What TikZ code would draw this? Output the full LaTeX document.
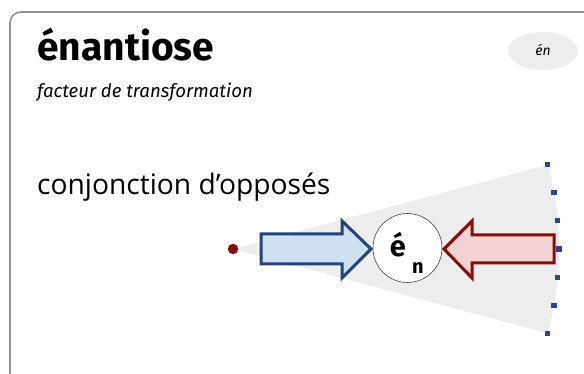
\documentclass[tikz,border=0pt]{standalone}
\usepackage{fontspec}
\usetikzlibrary{calc}
\setmainfont{Fira Sans}
\newfontfamily\bodyfont{Open Sans}
\definecolor{navy}{HTML}{22437F}
\definecolor{paleblue}{HTML}{CFE0F1}
\definecolor{darkred}{HTML}{8B0A0A}
\definecolor{palered}{HTML}{F3D3D4}
\definecolor{dotblue}{HTML}{27488A}
\begin{document}
\begin{tikzpicture}[x=1pt,y=-1pt,
  card/.style={draw=black!42,line width=1.6pt,rounded corners=11pt,fill=white},
  bluearrow/.style={draw=navy,line width=3pt,fill=paleblue,line join=miter},
  redarrow/.style={draw=darkred,line width=3pt,fill=palered,line join=miter},
  dotmark/.style={fill=dotblue,draw=none}]
\useasboundingbox (0,0) rectangle (584,374);
\path[card] (10,400) -- (10,12) -- (600,12);
\node[anchor=base west,inner sep=0pt,font=\fontsize{39}{41}\selectfont\bfseries] (title) at (37,61) {énantiose};
\node[anchor=base west,inner sep=0pt,font=\fontsize{18.6}{20}\selectfont\itshape] (sub) at (37,98) {facteur de transformation};
\fill[black!7] (543,51) ellipse [x radius=35,y radius=19];
\node[inner sep=0pt,font=\fontsize{14}{15}\selectfont\itshape] (badge) at (543,50) {én};
\node[anchor=base west,inner sep=0pt,font=\bodyfont\fontsize{28.2}{30}\selectfont] (conj) at (37,195) {conjonction d’opposés};
\coordinate (apex) at (233,249);
\fill[black!7] (apex) -- ++(15:326) arc[start angle=15,end angle=-15,radius=326] -- cycle;
\foreach \a in {-15,-10,-5,0,5,10,15}{
  \fill[dotmark] ($(apex)+(\a:326)$) +(-2.6,-2.6) rectangle +(2.6,2.6);
}
\fill[darkred] (apex) circle (5.2);
\draw[bluearrow] (261,234) -- (342,234) -- (342,221) -- (371,249) -- (342,278) -- (342,264) -- (261,264) -- cycle;
\draw[redarrow] (554,235) -- (472,235) -- (472,221) -- (444,249) -- (472,278) -- (472,263) -- (554,263) -- cycle;
\node[circle,draw=black!75,line width=0.6pt,fill=white,minimum size=69pt,inner sep=0pt] (en) at (407.5,248) {};
\node[anchor=base,inner sep=0pt,font=\fontsize{29}{30}\selectfont\bfseries] (e) at (398,257) {é};
\node[anchor=base,inner sep=0pt,font=\fontsize{20}{21}\selectfont\bfseries] (n) at (418,274) {n};
\end{tikzpicture}
\end{document}
